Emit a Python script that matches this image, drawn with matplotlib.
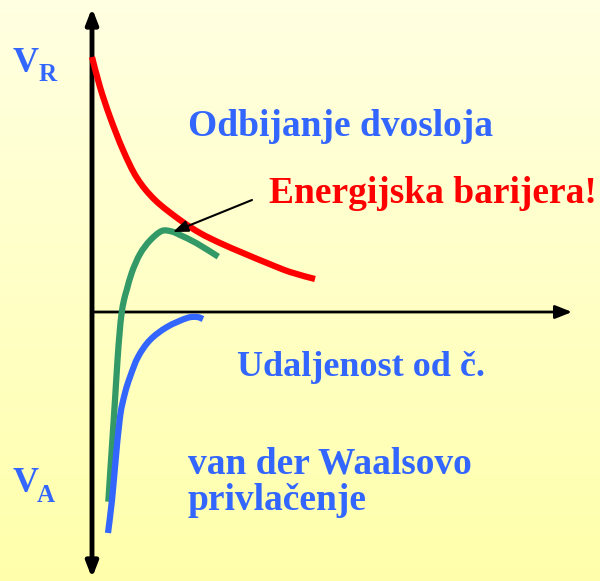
import numpy as np
import matplotlib
matplotlib.use("Agg")
import matplotlib.pyplot as plt
from matplotlib.colors import LinearSegmentedColormap
from matplotlib.path import Path
from matplotlib.patches import PathPatch

# Potential energy curves (distance, energy) in arbitrary units
repulsion_x = [0.0, 0.8, 1.8, 3.1, 4.5, 6.3, 8.8, 10.8, 12.8, 15.1, 17.5, 19.8, 22.3]
repulsion_y = [25.5, 22.5, 19.5, 16.2, 13.4, 11.2, 9.2, 7.9, 6.9, 5.9, 4.9, 4.0, 3.3]

total_x = [1.63, 1.97, 2.3, 2.55, 2.75, 2.95, 3.2, 3.5, 4.0, 4.8, 5.8, 6.97, 7.97, 8.8, 10.47, 12.63]
total_y = [-18.97, -13.8, -8.8, -4.8, -2.2, -0.2, 1.2, 2.3, 4.0, 5.8, 7.15, 8.1, 8.05, 7.7, 6.87, 5.53]

attraction_x = [1.6, 2.0, 2.3, 2.8, 3.3, 3.8, 4.6, 5.8, 7.5, 9.5, 10.5, 11.1]
attraction_y = [-22.1, -18.8, -15.5, -10.5, -8.1, -6.5, -4.5, -2.8, -1.5, -0.6, -0.5, -0.7]

barrier_label = "Energijska barijera!"
repulsion_label = "Odbijanje dvosloja"
distance_label = "Udaljenost od č."
attraction_lines = ["van der Waalsovo", "privlačenje"]

BLUE = "#3366FF"
RED = "#FF0000"
GREEN = "#339966"
SERIF = ["Liberation Serif", "DejaVu Serif"]


def smooth_path(xs, ys):
    """Bezier path passing through every point (Catmull-Rom tangents)."""
    p = np.column_stack([xs, ys]).astype(float)
    n = len(p)
    verts = [p[0]]
    codes = [Path.MOVETO]
    for i in range(n - 1):
        p_prev = p[i - 1] if i > 0 else p[i]
        p_next = p[i + 2] if i + 2 < n else p[i + 1]
        c1 = p[i] + (p[i + 1] - p_prev) / 6.0
        c2 = p[i + 1] - (p_next - p[i]) / 6.0
        verts += [c1, c2, p[i + 1]]
        codes += [Path.CURVE4] * 3
    return Path(verts, codes)


fig = plt.figure(figsize=(6.0, 5.81), dpi=100)
ax = fig.add_axes([0, 0, 1, 1])
xmin, xmax = -9.2, 50.8
ymin, ymax = -26.9, 31.2
ax.axis("off")

# pale yellow vertical gradient background (deeper yellow at the bottom)
grad = np.linspace(0, 1, 256).reshape(-1, 1)
cmap = LinearSegmentedColormap.from_list("bg", ["#FFFFAB", "#FFFFE2"])
ax.imshow(grad, extent=[xmin, xmax, ymin, ymax], aspect="auto",
          cmap=cmap, zorder=0, origin="lower")
ax.set_xlim(xmin, xmax)
ax.set_ylim(ymin, ymax)

# axes with arrow heads
ax.annotate("", xy=(0, 30.4), xytext=(0, -26.6),
            arrowprops=dict(arrowstyle="<|-|>,head_length=0.9,head_width=0.35",
                            color="black", lw=3.5, shrinkA=0, shrinkB=0),
            zorder=3)
ax.annotate("", xy=(48.0, 0), xytext=(0, 0),
            arrowprops=dict(arrowstyle="-|>,head_length=1.0,head_width=0.4",
                            color="black", lw=2, shrinkA=0, shrinkB=0),
            zorder=3)

# curves
for xs, ys, col in [(repulsion_x, repulsion_y, RED),
                    (total_x, total_y, GREEN),
                    (attraction_x, attraction_y, BLUE)]:
    ax.add_patch(PathPatch(smooth_path(xs, ys), facecolor="none",
                           edgecolor=col, lw=4.5, capstyle="butt",
                           joinstyle="round", zorder=4))

# pointer to the energy barrier
ax.annotate("", xy=(8.1, 8.0), xytext=(16.0, 11.2),
            arrowprops=dict(arrowstyle="-|>,head_length=0.9,head_width=0.35",
                            color="black", lw=1.5, shrinkA=0, shrinkB=0),
            zorder=5)

tkw = dict(family=SERIF, weight="bold", ha="left", va="baseline", zorder=6)
ax.text(9.6, 17.6, repulsion_label, color=BLUE, fontsize=27, **tkw)
ax.text(17.7, 10.9, barrier_label, color=RED, fontsize=27, **tkw)
ax.text(14.5, -6.4, distance_label, color=BLUE, fontsize=26, **tkw)
ax.text(9.6, -16.1, attraction_lines[0], color=BLUE, fontsize=27, **tkw)
ax.text(9.6, -19.8, attraction_lines[1], color=BLUE, fontsize=27, **tkw)

# axis symbols
ax.text(-7.9, 24.0, "V", color=BLUE, fontsize=26, **tkw)
ax.text(-5.3, 23.1, "R", color=BLUE, fontsize=18, **tkw)
ax.text(-7.9, -18.0, "V", color=BLUE, fontsize=26, **tkw)
ax.text(-5.5, -19.0, "A", color=BLUE, fontsize=18, **tkw)

fig.savefig("out.png", dpi=100)
